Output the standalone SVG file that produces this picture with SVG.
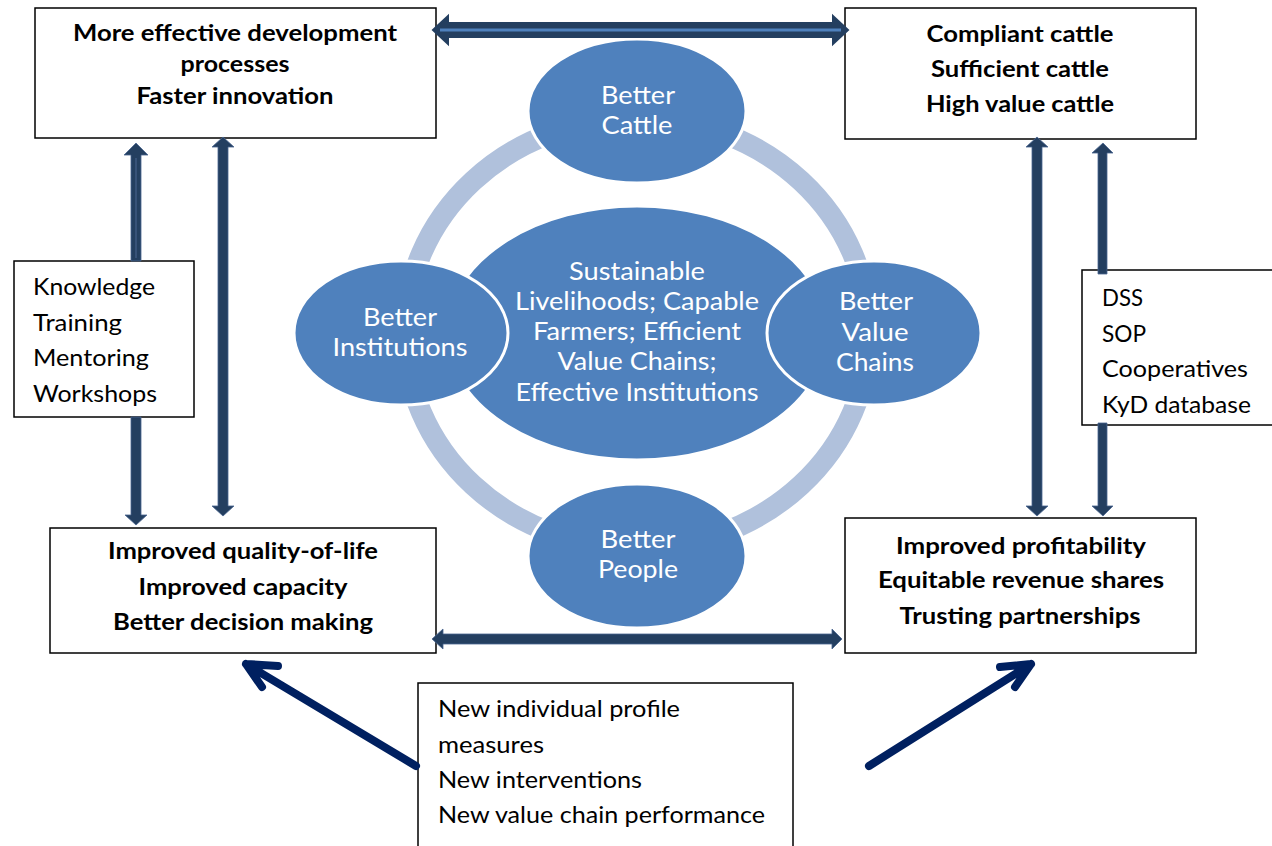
<svg xmlns="http://www.w3.org/2000/svg" width="1272" height="846" viewBox="0 0 1272 846">
<style>
.box{fill:#fff;stroke:#000;stroke-width:1.5}
text{font-family:Lato,"Liberation Sans",sans-serif}
.hb{font-weight:bold;font-size:23px;fill:#000;text-anchor:middle}
.lt{font-size:23px;fill:#000}
.el{fill:#4F81BD;stroke:#fff;stroke-width:3}
.et{font-size:25px;fill:#fff;text-anchor:middle}
.ar{fill:#243F60;stroke:#4A6690;stroke-width:0.8}
.dg{fill:none;stroke:#002060;stroke-width:8;stroke-linecap:round;stroke-linejoin:round}
</style>
<rect width="1272" height="846" fill="#fff"/>
<g id="ring">
<ellipse cx="637" cy="333" rx="232" ry="215" fill="none" stroke="#B0C1DC" stroke-width="21"/>
</g>
<g id="center">
<ellipse class="el" cx="637" cy="333" rx="190" ry="127"/>
<text class="et" x="637" y="280" textLength="136" lengthAdjust="spacingAndGlyphs">Sustainable</text>
<text class="et" x="637" y="310" textLength="244" lengthAdjust="spacingAndGlyphs">Livelihoods; Capable</text>
<text class="et" x="637" y="340" textLength="208" lengthAdjust="spacingAndGlyphs">Farmers; Efficient</text>
<text class="et" x="637" y="370" textLength="159" lengthAdjust="spacingAndGlyphs">Value Chains;</text>
<text class="et" x="637" y="401" textLength="243" lengthAdjust="spacingAndGlyphs">Effective Institutions</text>
</g>
<g id="cattle">
<ellipse class="el" cx="637" cy="111" rx="109" ry="72"/>
<text class="et" x="638" y="104" textLength="74" lengthAdjust="spacingAndGlyphs">Better</text>
<text class="et" x="637" y="134" textLength="71" lengthAdjust="spacingAndGlyphs">Cattle</text>
</g>
<g id="people">
<ellipse class="el" cx="637" cy="556" rx="109" ry="72"/>
<text class="et" x="638" y="548" textLength="75" lengthAdjust="spacingAndGlyphs">Better</text>
<text class="et" x="638" y="578" textLength="80" lengthAdjust="spacingAndGlyphs">People</text>
</g>
<g id="institutions">
<ellipse class="el" cx="401" cy="333" rx="107" ry="72"/>
<text class="et" x="400" y="326" textLength="74" lengthAdjust="spacingAndGlyphs">Better</text>
<text class="et" x="400" y="356" textLength="135" lengthAdjust="spacingAndGlyphs">Institutions</text>
</g>
<g id="valuechains">
<ellipse class="el" cx="874" cy="333" rx="107" ry="72"/>
<text class="et" x="876" y="310" textLength="74" lengthAdjust="spacingAndGlyphs">Better</text>
<text class="et" x="875" y="341" textLength="67" lengthAdjust="spacingAndGlyphs">Value</text>
<text class="et" x="875" y="371" textLength="78" lengthAdjust="spacingAndGlyphs">Chains</text>
</g>
<g id="box-dev">
<rect class="box" x="35" y="8" width="401" height="130"/>
<text class="hb" x="235" y="41" textLength="324" lengthAdjust="spacingAndGlyphs">More effective development</text>
<text class="hb" x="235" y="72" textLength="109" lengthAdjust="spacingAndGlyphs">processes</text>
<text class="hb" x="235" y="104" textLength="197" lengthAdjust="spacingAndGlyphs">Faster innovation</text>
</g>
<g id="box-cattle">
<rect class="box" x="845" y="8" width="351" height="131"/>
<text class="hb" x="1020" y="42" textLength="187" lengthAdjust="spacingAndGlyphs">Compliant cattle</text>
<text class="hb" x="1020" y="77" textLength="178" lengthAdjust="spacingAndGlyphs">Sufficient cattle</text>
<text class="hb" x="1020" y="112" textLength="188" lengthAdjust="spacingAndGlyphs">High value cattle</text>
</g>
<g id="box-quality">
<rect class="box" x="50" y="528" width="386" height="125"/>
<text class="hb" x="243" y="559" textLength="270" lengthAdjust="spacingAndGlyphs">Improved quality-of-life</text>
<text class="hb" x="243" y="595" textLength="209" lengthAdjust="spacingAndGlyphs">Improved capacity</text>
<text class="hb" x="243" y="630" textLength="260" lengthAdjust="spacingAndGlyphs">Better decision making</text>
</g>
<g id="box-profit">
<rect class="box" x="845" y="518" width="351" height="135"/>
<text class="hb" x="1021" y="554" textLength="250" lengthAdjust="spacingAndGlyphs">Improved profitability</text>
<text class="hb" x="1021" y="588" textLength="286" lengthAdjust="spacingAndGlyphs">Equitable revenue shares</text>
<text class="hb" x="1020" y="624" textLength="241" lengthAdjust="spacingAndGlyphs">Trusting partnerships</text>
</g>
<g id="box-knowledge">
<rect class="box" x="14" y="261" width="180" height="156"/>
<text class="lt" x="33" y="295" textLength="122" lengthAdjust="spacingAndGlyphs">Knowledge</text>
<text class="lt" x="33" y="331" textLength="89" lengthAdjust="spacingAndGlyphs">Training</text>
<text class="lt" x="33" y="366" textLength="116" lengthAdjust="spacingAndGlyphs">Mentoring</text>
<text class="lt" x="33" y="402" textLength="124" lengthAdjust="spacingAndGlyphs">Workshops</text>
</g>
<g id="box-dss">
<rect class="box" x="1082" y="270" width="195" height="155"/>
<text class="lt" x="1102" y="306" textLength="41" lengthAdjust="spacingAndGlyphs">DSS</text>
<text class="lt" x="1102" y="342" textLength="44" lengthAdjust="spacingAndGlyphs">SOP</text>
<text class="lt" x="1102" y="377" textLength="146" lengthAdjust="spacingAndGlyphs">Cooperatives</text>
<text class="lt" x="1102" y="413" textLength="149" lengthAdjust="spacingAndGlyphs">KyD database</text>
</g>
<g id="box-new">
<rect class="box" x="418" y="683" width="375" height="170"/>
<text class="lt" x="438" y="717" textLength="242" lengthAdjust="spacingAndGlyphs">New individual profile</text>
<text class="lt" x="438" y="753" textLength="106" lengthAdjust="spacingAndGlyphs">measures</text>
<text class="lt" x="438" y="788" textLength="204" lengthAdjust="spacingAndGlyphs">New interventions</text>
<text class="lt" x="438" y="823" textLength="327" lengthAdjust="spacingAndGlyphs">New value chain performance</text>
</g>
<g id="connectors">
<polygon points="433,30 448,16 448,23 833,23 833,16 848,30 833,44 833,37 448,37 448,44" fill="#243F60" stroke="#243F60" stroke-width="2" stroke-linejoin="miter"/>
<line x1="440" y1="30" x2="841" y2="30" stroke="#4F81BD" stroke-width="3"/>
<polygon class="ar" points="432,639 443,629 443,634 832,634 832,629 842,639 832,649 832,644 443,644 443,649"/>
<polygon class="ar" points="136,143 148,155 141,155 141,261 131,261 131,155 124,155"/>
<line x1="136" y1="158" x2="136" y2="258" stroke="#4A6690" stroke-width="1"/>
<polygon class="ar" points="131,417 141,417 141,515 147,515 136,525 125,515 131,515"/>
<polygon class="ar" points="223,137 234,147 228,147 228,506 234,506 223,516 212,506 218,506 218,147 212,147"/>
<polygon class="ar" points="1037,137 1048,147 1042,147 1042,506 1048,506 1037,516 1026,506 1032,506 1032,147 1026,147"/>
<polygon class="ar" points="1103,143 1113,153 1107,153 1107,274 1098,274 1098,153 1092,153"/>
<polygon class="ar" points="1098,423 1107,423 1107,506 1113,506 1103,516 1092,506 1098,506"/>
<path class="dg" d="M416,766 L246,664 M278,666 L246,664 L262,687"/>
<path class="dg" d="M869,766 L1031,664 M1000,667 L1031,664 L1015,687"/>
</g>
</svg>
